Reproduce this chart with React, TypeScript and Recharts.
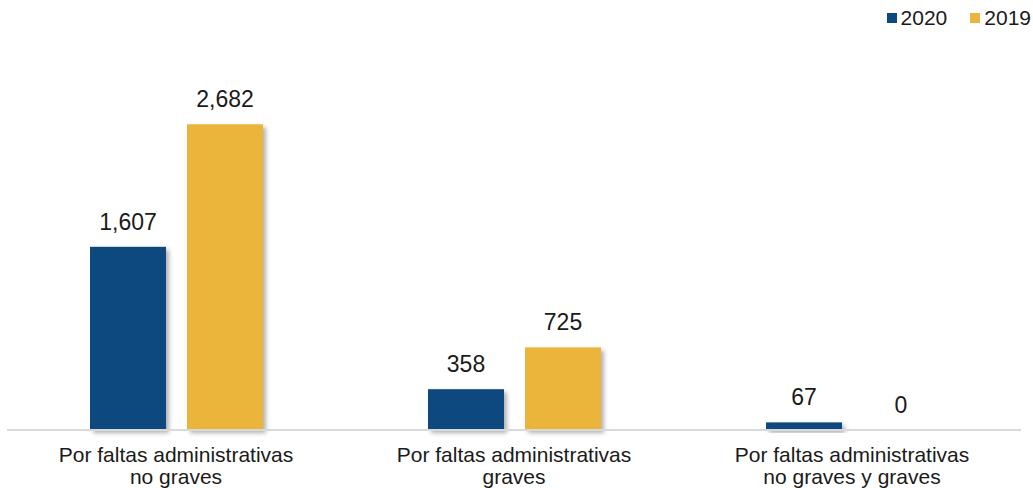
import { BarChart, Bar, XAxis, YAxis } from "recharts";

const categories = [
  "Por faltas administrativas\nno graves",
  "Por faltas administrativas\ngraves",
  "Por faltas administrativas\nno graves y graves",
];
const values2020 = [1607, 358, 67];
const values2019 = [2682, 725, 0];
const seriesNames = ["2020", "2019"];

const chartData = categories.map((c, i) => ({
  category: c,
  y2020: values2020[i],
  y2019: values2019[i],
}));

const colors = ["#0b4a7e", "#ebb43a"];
const font = "'Liberation Sans', Arial, sans-serif";
const fmt = (v: number) => Number(v).toLocaleString("en-US");

function CategoryTick({ x, y, payload }: any) {
  const lines = String(payload.value).split("\n");
  return (
    <text x={x} y={y} textAnchor="middle" fill="#1a1a1a" fontSize={21} fontFamily={font}>
      {lines.map((line, index) => (
        <tspan key={index} x={x} dy={index === 0 ? 24 : 22}>
          {line}
        </tspan>
      ))}
    </text>
  );
}

// bar with its value drawn above, so a zero bar still gets its "0"
function BarWithValue(props: any) {
  const { x, y, width, height, fill, value } = props;
  const v = Array.isArray(value) ? value[1] - value[0] : value;
  return (
    <g>
      {height > 0 && (
        <rect x={x} y={y} width={width} height={height} fill={fill} filter="url(#barShadow)" />
      )}
      <text x={x + width / 2} y={y - 17} textAnchor="middle" fill="#1a1a1a" fontSize={23} fontFamily={font}>
        {fmt(v)}
      </text>
    </g>
  );
}

function TopLegend() {
  return (
    <div
      style={{
        position: "absolute",
        top: 6,
        right: 2,
        display: "flex",
        fontFamily: font,
        fontSize: 21,
        color: "#1a1a1a",
      }}
    >
      {seriesNames.map((name, i) => (
        <div key={name} style={{ display: "flex", alignItems: "center", marginLeft: 23 }}>
          <span style={{ width: 10, height: 10, background: colors[i], marginRight: 4, display: "inline-block" }} />
          <span>{name}</span>
        </div>
      ))}
    </div>
  );
}

export default function App() {
  return (
    <div style={{ position: "absolute", left: 0, top: 0, width: 1033, height: 488, background: "#fff" }}>
      <BarChart
        width={1033}
        height={488}
        data={chartData}
        margin={{ top: 88, right: 12, left: 7, bottom: 0 }}
        barSize={76}
        barGap={21}
      >
        <defs>
          <filter id="barShadow" x="-20%" y="-20%" width="150%" height="150%">
            <feDropShadow dx="3" dy="3" stdDeviation="2" floodColor="#000" floodOpacity="0.3" />
          </filter>
        </defs>
        <XAxis
          dataKey="category"
          interval={0}
          tickLine={false}
          axisLine={{ stroke: "#d9d9d9", strokeWidth: 2 }}
          tick={<CategoryTick />}
          height={58}
        />
        <YAxis hide domain={[0, 3000]} />
        <Bar dataKey="y2020" fill={colors[0]} isAnimationActive={false} shape={<BarWithValue />} />
        <Bar dataKey="y2019" fill={colors[1]} isAnimationActive={false} shape={<BarWithValue />} />
      </BarChart>
      <TopLegend />
    </div>
  );
}
